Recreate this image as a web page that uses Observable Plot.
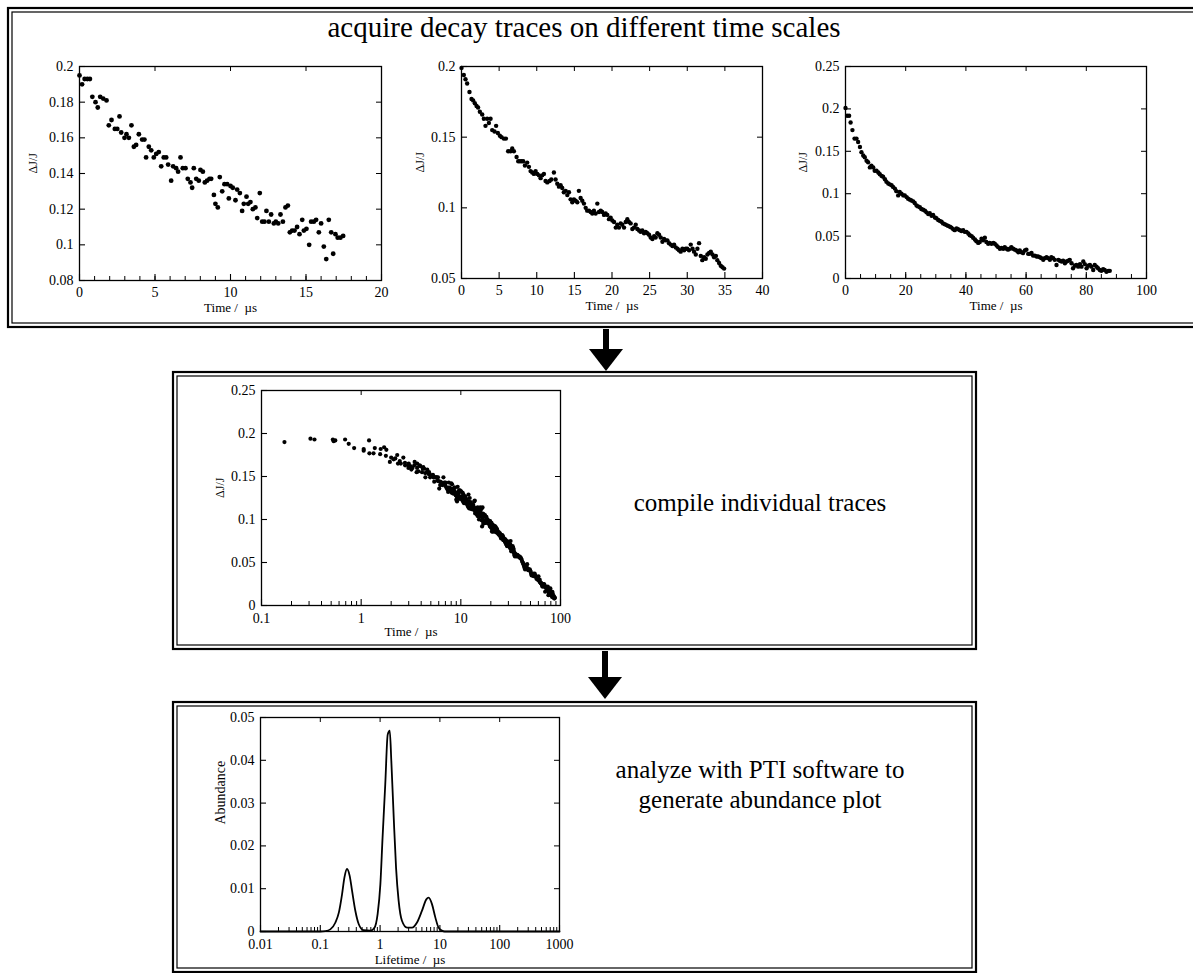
<!DOCTYPE html>
<html>
<head>
<meta charset="utf-8">
<script src="https://cdn.jsdelivr.net/npm/d3@7"></script>
<script src="https://cdn.jsdelivr.net/npm/@observablehq/plot@0.6"></script>
<style>
  html, body { margin: 0; padding: 0; background: #fff; }
  #page { position: relative; width: 1193px; height: 973px; overflow: hidden; background: #fff; }
  .chart { position: absolute; }
  #overlay { position: absolute; left: 0; top: 0; }
</style>
</head>
<body>
<div id="page">
  <svg id="overlay" width="1193" height="973"></svg>
</div>
<script>
// ---------------- DATA ----------------
// Trace 1: short time scale  [time (µs), ΔJ/J]
const trace1 = [
  [0,0.195],[0.17,0.190],[0.34,0.193],[0.52,0.193],[0.69,0.193],[0.85,0.183],[1.06,0.180],[1.21,0.177],
  [1.37,0.183],[1.57,0.182],[1.79,0.181],[1.94,0.167],[2.12,0.170],[2.34,0.165],[2.5,0.165],[2.65,0.172],
  [2.76,0.163],[2.98,0.160],[3.11,0.162],[3.27,0.160],[3.44,0.167],[3.6,0.155],[3.75,0.156],[3.93,0.162],
  [4.15,0.159],[4.3,0.159],[4.41,0.149],[4.59,0.155],[4.75,0.153],[4.92,0.149],[5.08,0.151],[5.25,0.152],
  [5.41,0.144],[5.58,0.149],[5.74,0.149],[5.87,0.145],[6.07,0.136],[6.2,0.144],[6.4,0.143],[6.53,0.141],
  [6.69,0.149],[6.84,0.143],[7.02,0.143],[7.17,0.137],[7.35,0.135],[7.46,0.132],[7.57,0.143],[7.73,0.137],
  [7.9,0.136],[8.01,0.142],[8.17,0.141],[8.3,0.135],[8.45,0.136],[8.61,0.137],[8.72,0.137],[8.9,0.128],
  [9.0,0.123],[9.16,0.121],[9.29,0.138],[9.45,0.130],[9.6,0.134],[9.78,0.134],[9.89,0.126],[10.0,0.133],
  [10.15,0.132],[10.33,0.125],[10.44,0.131],[10.62,0.129],[10.77,0.119],[10.88,0.123],[11.06,0.127],[11.17,0.123],
  [11.32,0.124],[11.48,0.120],[11.65,0.121],[11.77,0.115],[11.94,0.129],[12.1,0.113],[12.25,0.113],[12.38,0.119],
  [12.54,0.113],[12.69,0.117],[12.87,0.112],[13.0,0.113],[13.16,0.112],[13.31,0.117],[13.47,0.113],[13.64,0.121],
  [13.8,0.122],[13.93,0.107],[14.08,0.108],[14.24,0.108],[14.41,0.110],[14.57,0.106],[14.75,0.114],[14.86,0.108],
  [15.03,0.109],[15.21,0.100],[15.34,0.113],[15.52,0.113],[15.67,0.114],[15.85,0.107],[16.0,0.112],[16.18,0.099],
  [16.34,0.092],[16.51,0.114],[16.67,0.107],[16.8,0.095],[16.95,0.106],[17.1,0.104],[17.28,0.104],[17.46,0.105]
];
// Trace 2: intermediate time scale
const trace2 = [
  [0,0.199],[0.31,0.194],[0.53,0.191],[0.75,0.188],[1.06,0.182],[1.33,0.177],[1.55,0.176],[1.77,0.174],
  [2.0,0.172],[2.2,0.171],[2.44,0.168],[2.75,0.166],[2.97,0.163],[3.19,0.158],[3.41,0.163],[3.64,0.160],
  [3.86,0.163],[4.08,0.155],[4.39,0.154],[4.6,0.158],[4.83,0.153],[5.1,0.151],[5.32,0.150],[5.63,0.149],
  [5.9,0.149],[6.2,0.140],[6.52,0.140],[6.74,0.142],[6.96,0.140],[7.32,0.136],[7.54,0.133],[7.76,0.133],
  [7.98,0.133],[8.2,0.133],[8.43,0.130],[8.73,0.132],[8.96,0.129],[9.18,0.126],[9.4,0.125],[9.62,0.124],
  [9.85,0.126],[10.07,0.124],[10.29,0.123],[10.51,0.121],[10.73,0.123],[10.95,0.124],[11.17,0.119],[11.4,0.118],
  [11.7,0.119],[11.93,0.120],[12.28,0.125],[12.5,0.120],[12.73,0.117],[12.95,0.115],[13.17,0.116],[13.39,0.114],
  [13.6,0.111],[13.84,0.112],[14.06,0.109],[14.28,0.111],[14.5,0.106],[14.72,0.104],[14.94,0.106],[15.17,0.105],
  [15.39,0.104],[15.6,0.112],[15.83,0.107],[16.05,0.105],[16.27,0.103],[16.5,0.100],[16.7,0.098],[16.94,0.098],
  [17.16,0.097],[17.38,0.096],[17.6,0.098],[17.83,0.096],[18.05,0.103],[18.27,0.097],[18.5,0.098],[18.7,0.097],
  [18.94,0.095],[19.16,0.096],[19.38,0.095],[19.6,0.092],[19.82,0.093],[20.04,0.091],[20.27,0.090],[20.5,0.086],
  [20.7,0.088],[20.93,0.086],[21.15,0.089],[21.37,0.088],[21.6,0.086],[21.82,0.090],[22.04,0.092],[22.26,0.090],
  [22.48,0.089],[22.7,0.085],[22.93,0.086],[23.15,0.088],[23.37,0.085],[23.6,0.084],[23.8,0.083],[24.03,0.084],
  [24.26,0.082],[24.48,0.083],[24.7,0.082],[24.92,0.081],[25.14,0.079],[25.37,0.078],[25.6,0.080],[25.8,0.079],
  [26.03,0.082],[26.25,0.081],[26.47,0.079],[26.7,0.076],[26.92,0.078],[27.14,0.077],[27.36,0.077],[27.58,0.075],
  [27.8,0.074],[28.03,0.073],[28.25,0.074],[28.47,0.072],[28.7,0.071],[28.9,0.070],[29.13,0.069],[29.36,0.071],
  [29.58,0.070],[29.8,0.071],[30.0,0.071],[30.24,0.070],[30.46,0.074],[30.7,0.071],[30.9,0.069],[31.13,0.067],
  [31.35,0.071],[31.57,0.075],[31.8,0.066],[32.0,0.063],[32.24,0.065],[32.46,0.064],[32.68,0.067],[32.9,0.068],
  [33.13,0.069],[33.35,0.067],[33.57,0.065],[33.8,0.066],[34.0,0.063],[34.23,0.061],[34.45,0.059],[34.68,0.058],
  [34.9,0.057]
];
// Trace 3: long time scale
const trace3 = [
  [0,0.201],[0.55,0.192],[1.2,0.192],[1.7,0.184],[2.3,0.175],[3.0,0.165],[3.65,0.165],[4.2,0.161],
  [4.8,0.155],[5.3,0.149],[5.9,0.145],[6.4,0.143],[7.0,0.139],[7.5,0.137],[8.1,0.131],[8.6,0.133],
  [9.2,0.131],[9.7,0.127],[10.3,0.127],[10.9,0.125],[11.4,0.123],[12.0,0.121],[12.5,0.120],[13.1,0.117],
  [13.6,0.114],[14.2,0.112],[14.7,0.111],[15.3,0.110],[15.8,0.108],[16.4,0.106],[16.9,0.103],[17.5,0.098],
  [18.0,0.102],[18.6,0.100],[19.2,0.098],[19.7,0.098],[20.3,0.096],[20.8,0.094],[21.4,0.093],[21.9,0.092],
  [22.5,0.091],[23.0,0.089],[23.6,0.086],[24.1,0.085],[24.7,0.084],[25.2,0.082],[25.8,0.081],[26.4,0.080],
  [26.9,0.078],[27.5,0.076],[28.0,0.077],[28.6,0.074],[29.1,0.075],[29.7,0.072],[30.2,0.071],[30.8,0.069],
  [31.3,0.068],[31.9,0.067],[32.4,0.065],[33.0,0.064],[33.6,0.063],[34.1,0.062],[34.7,0.061],[35.2,0.060],
  [35.8,0.058],[36.3,0.057],[36.9,0.059],[37.4,0.058],[38.0,0.057],[38.5,0.056],[39.1,0.057],[39.6,0.055],
  [40.2,0.055],[40.8,0.053],[41.3,0.051],[41.9,0.050],[42.4,0.048],[43.0,0.046],[43.5,0.044],[44.1,0.042],
  [44.6,0.043],[45.2,0.047],[45.7,0.045],[46.3,0.048],[46.8,0.043],[47.4,0.041],[47.9,0.042],[48.5,0.041],
  [49.1,0.042],[49.6,0.041],[50.2,0.039],[50.7,0.037],[51.3,0.035],[51.8,0.036],[52.4,0.035],[52.9,0.037],
  [53.5,0.035],[54.0,0.034],[54.6,0.035],[55.1,0.037],[55.7,0.035],[56.3,0.034],[56.8,0.033],[57.4,0.031],
  [57.9,0.033],[58.5,0.031],[59.0,0.030],[59.6,0.033],[60.1,0.034],[60.7,0.029],[61.2,0.029],[61.8,0.030],
  [62.3,0.027],[62.9,0.027],[63.5,0.026],[64.0,0.026],[64.6,0.025],[65.1,0.024],[65.7,0.022],[66.2,0.024],
  [66.8,0.025],[67.3,0.024],[67.9,0.022],[68.4,0.025],[69.0,0.024],[69.5,0.022],[70.1,0.016],[70.7,0.022],
  [71.2,0.021],[71.8,0.020],[72.3,0.021],[72.9,0.018],[73.4,0.020],[74.0,0.021],[74.5,0.022],[75.1,0.018],
  [75.6,0.012],[76.2,0.015],[76.7,0.016],[77.3,0.014],[77.9,0.017],[78.4,0.014],[79.0,0.020],[79.5,0.017],
  [80.1,0.012],[80.6,0.015],[81.2,0.016],[81.7,0.014],[82.3,0.010],[82.8,0.016],[83.4,0.014],[83.9,0.012],
  [84.5,0.010],[85.0,0.009],[85.6,0.011],[86.1,0.010],[86.7,0.008],[87.3,0.009],[87.8,0.009]
];
// Abundance distribution  [lifetime (µs), abundance]
const abundance = [
  [0.01,0],[0.05,0],[0.1,0],[0.122,0.0001],[0.147,0.0005],[0.179,0.0021],[0.204,0.0044],[0.231,0.0087],
  [0.253,0.0126],[0.28,0.0146],[0.31,0.013],[0.34,0.0095],[0.386,0.0048],[0.44,0.0017],[0.53,0.0003],
  [0.69,0.0002],[0.80,0.0008],[0.91,0.0041],[1.01,0.011],[1.10,0.022],[1.22,0.0344],[1.34,0.046],
  [1.45,0.0469],[1.54,0.0399],[1.69,0.0266],[1.85,0.0148],[2.04,0.0072],[2.32,0.0025],[2.82,0.0009],
  [3.41,0.0009],[4.14,0.0021],[5.0,0.0048],[5.93,0.0075],[6.49,0.0079],[7.37,0.0064],[8.38,0.0033],
  [9.5,0.0009],[10.8,0.0002],[12,0],[100,0],[1000,0]
];
// Tick values / labels
const ticks1X = [0, 5, 10, 15, 20];
const ticks1Y = [0.08, 0.1, 0.12, 0.14, 0.16, 0.18, 0.2];
const ticks2X = [0, 5, 10, 15, 20, 25, 30, 35, 40];
const ticks2Y = [0.05, 0.1, 0.15, 0.2];
const ticks3X = [0, 20, 40, 60, 80, 100];
const ticks3Y = [0, 0.05, 0.1, 0.15, 0.2, 0.25];
const ticksMidX = [0.1, 1, 10, 100];
const ticksMidY = [0, 0.05, 0.1, 0.15, 0.2, 0.25];
const ticksAbX = [0.01, 0.1, 1, 10, 100, 1000];
const ticksAbY = [0, 0.01, 0.02, 0.03, 0.04, 0.05];

const titleTop = "acquire decay traces on different time scales";
const titleMid = "compile individual traces";
const titleBot = ["analyze with PTI software to", "generate abundance plot"];
const timeLabel = "Time /\u00a0 µs";
const lifeLabel = "Lifetime /\u00a0 µs";
const djLabel = "ΔJ/J";
const abLabel = "Abundance";

// compiled set = all three traces (t > 0 for the log axis)
const compiled = [...trace1, ...trace2, ...trace3].filter(d => d[0] > 0);

// ---------------- helpers ----------------
const FONT = "'Liberation Serif', 'Times New Roman', serif";
const range = (a, b, s) => d3.range(a, b + s / 2, s);
const logMinor = (lo, hi) => d3.range(Math.log10(lo), Math.log10(hi)).flatMap(e => d3.range(2, 10).map(k => k * Math.pow(10, e)));

function chart(o) {
  const fw = o.width - o.ml - o.mr, fh = o.height - o.mt - o.mb;
  const marks = [
    Plot.frame({stroke: "#000", strokeWidth: 1.3}),
    Plot.ruleX(o.xTicks, {x: d => d, insetTop: fh - 6, stroke: "#000", strokeWidth: 1.1}),
    Plot.ruleX(o.xTicks, {x: d => d, insetBottom: fh - 5, stroke: "#000", strokeWidth: 1}),
    Plot.ruleY(o.yTicks, {y: d => d, insetRight: fw - 6, stroke: "#000", strokeWidth: 1.1}),
    Plot.ruleY(o.yTicks, {y: d => d, insetLeft: fw - 5, stroke: "#000", strokeWidth: 1}),
    Plot.axisX({ticks: o.xTicks, tickSize: 0, tickPadding: o.xPad || 7, tickFormat: d => String(d), fontSize: 14, label: null}),
    Plot.axisY({ticks: o.yTicks, tickSize: 0, tickPadding: 6, tickFormat: d => String(d), fontSize: 14, label: null}),
    Plot.text([o.xLabel], {frameAnchor: "bottom", text: d => d, dy: o.xLabelDy, fontSize: 13, fill: "#000"}),
    Plot.text([o.yLabel], {frameAnchor: "left", text: d => d, dx: o.yLabelDx, rotate: -90, fontSize: o.yLabelSize || 12, fill: "#000"})
  ];
  if (o.xMinor) marks.push(Plot.ruleX(o.xMinor, {x: d => d, insetTop: fh - 4, stroke: "#000", strokeWidth: 1}));
  if (o.line) marks.push(Plot.line(o.data, {x: d => d[0], y: d => d[1], stroke: "#000", strokeWidth: 1.8, curve: "monotone-x"}));
  else marks.push(Plot.dot(o.data, {x: d => d[0], y: d => d[1], r: o.r || 1.9, fill: "#000", stroke: "none"}));

  const svg = Plot.plot({
    width: o.width, height: o.height,
    marginLeft: o.ml, marginRight: o.mr, marginTop: o.mt, marginBottom: o.mb,
    x: {type: o.xType || "linear", domain: o.xDomain, label: null},
    y: {domain: o.yDomain, label: null},
    style: {background: "transparent", overflow: "visible", fontFamily: FONT, fontSize: "14px", color: "#000", maxWidth: "none"},
    marks
  });
  svg.classList.add("chart");
  svg.style.left = o.left + "px";
  svg.style.top = o.top + "px";
  document.getElementById("page").appendChild(svg);
}

// ---------------- charts ----------------
chart({data: trace1, left: 15, top: 45, width: 380, height: 280, ml: 64, mr: 14, mt: 21, mb: 45,
  xDomain: [0, 20], yDomain: [0.08, 0.2], xTicks: ticks1X, yTicks: ticks1Y, xMinor: range(1, 19, 1),
  xLabel: timeLabel, xLabelDy: 31, yLabel: djLabel, yLabelDx: -46, r: 2.4});

chart({data: trace2, left: 400, top: 45, width: 380, height: 280, ml: 61, mr: 18, mt: 21, mb: 47,
  xDomain: [0, 40], yDomain: [0.05, 0.2], xTicks: ticks2X, yTicks: ticks2Y,
  xLabel: timeLabel, xLabelDy: 31, yLabel: djLabel, yLabelDx: -41, r: 2.2});

chart({data: trace3, left: 785, top: 45, width: 400, height: 280, ml: 60, mr: 39, mt: 21, mb: 47,
  xDomain: [0, 100], yDomain: [0, 0.25], xTicks: ticks3X, yTicks: ticks3Y, xMinor: range(5, 95, 5),
  xLabel: timeLabel, xLabelDy: 31, yLabel: djLabel, yLabelDx: -42, r: 2.2});

chart({data: compiled, left: 180, top: 380, width: 400, height: 262, ml: 81, mr: 20, mt: 10, mb: 37,
  xType: "log", xDomain: [0.1, 100], yDomain: [0, 0.25], xTicks: ticksMidX, yTicks: ticksMidY,
  xMinor: logMinor(0.1, 100), xPad: 8,
  xLabel: timeLabel, xLabelDy: 30, yLabel: djLabel, yLabelDx: -41, r: 2.1});

chart({data: abundance, line: true, left: 180, top: 708, width: 400, height: 260, ml: 80, mr: 21, mt: 9, mb: 37,
  xType: "log", xDomain: [0.01, 1000], yDomain: [0, 0.05], xTicks: ticksAbX, yTicks: ticksAbY,
  xMinor: logMinor(0.01, 1000), xPad: 8,
  xLabel: lifeLabel, xLabelDy: 32, yLabel: abLabel, yLabelDx: -40, yLabelSize: 14});

// ---------------- boxes, arrows, captions ----------------
const ov = d3.select("#overlay");
function box(x0, y0, x1, y1) {
  ov.append("rect").attr("x", x0).attr("y", y0).attr("width", x1 - x0).attr("height", y1 - y0)
    .attr("fill", "none").attr("stroke", "#000").attr("stroke-width", 2.2);
  ov.append("rect").attr("x", x0 + 4).attr("y", y0 + 4).attr("width", x1 - x0 - 8).attr("height", y1 - y0 - 8)
    .attr("fill", "none").attr("stroke", "#000").attr("stroke-width", 1.2);
}
box(8, 8, 1215, 327);
box(173, 372, 976, 649);
box(173, 702, 976, 972);

function arrow(cx, y0, y1) {
  const headH = 22, headW = 34;
  ov.append("rect").attr("x", cx - 3).attr("y", y0).attr("width", 6).attr("height", y1 - y0 - headH + 1).attr("fill", "#000");
  ov.append("path").attr("d", `M${cx - headW / 2},${y1 - headH}L${cx + headW / 2},${y1 - headH}L${cx},${y1}Z`).attr("fill", "#000");
}
arrow(606, 329, 371);
arrow(605, 651, 699);

function caption(lines, cx, y0, lh, size) {
  const t = ov.append("text").attr("text-anchor", "middle").attr("font-family", FONT).attr("font-size", size).attr("fill", "#000");
  lines.forEach((s, i) => t.append("tspan").attr("x", cx).attr("y", y0 + i * lh).text(s));
}
caption([titleTop], 584, 37, 0, 29);
caption([titleMid], 760, 511, 0, 25);
caption(titleBot, 760, 778, 30, 25);

// overlay on top of charts
document.getElementById("page").appendChild(document.getElementById("overlay"));
</script>
</body>
</html>
